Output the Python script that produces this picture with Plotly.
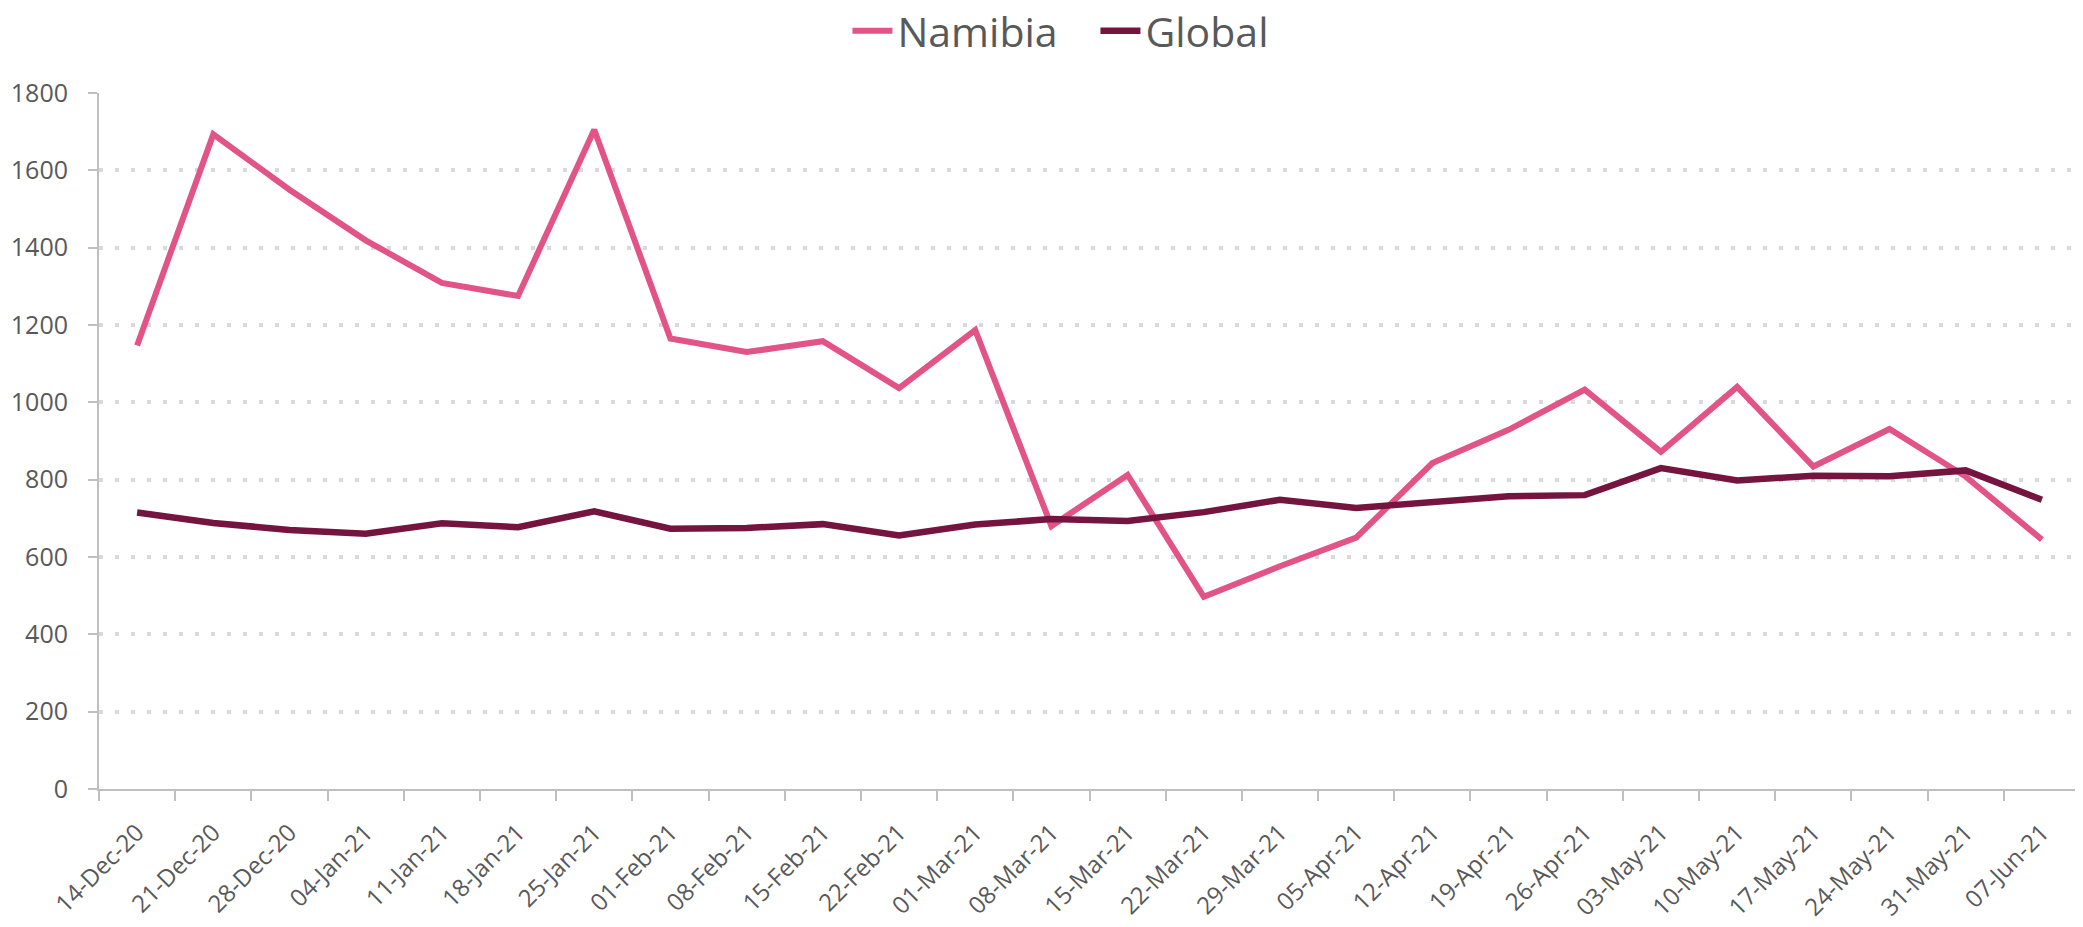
import plotly.graph_objects as go

dates = ["14-Dec-20", "21-Dec-20", "28-Dec-20", "04-Jan-21", "11-Jan-21", "18-Jan-21",
         "25-Jan-21", "01-Feb-21", "08-Feb-21", "15-Feb-21", "22-Feb-21", "01-Mar-21",
         "08-Mar-21", "15-Mar-21", "22-Mar-21", "29-Mar-21", "05-Apr-21", "12-Apr-21",
         "19-Apr-21", "26-Apr-21", "03-May-21", "10-May-21", "17-May-21", "24-May-21",
         "31-May-21", "07-Jun-21"]

namibia = [1147, 1693, 1550, 1419, 1309, 1275, 1705, 1165, 1130, 1158, 1037, 1187,
           680, 812, 497, 576, 650, 843, 929, 1033, 872, 1040, 834, 931, 808, 645]

global_vals = [715, 688, 670, 660, 687, 677, 718, 673, 675, 685, 656, 684,
               698, 693, 716, 748, 727, 740, 757, 760, 830, 798, 810, 809, 824, 748]

y_ticks = [0, 200, 400, 600, 800, 1000, 1200, 1400, 1600, 1800]

PINK = "#E35486"
MAROON = "#74143F"
GRAY_TXT = "#595959"
AXIS = "#BFBFBF"
GRID = "#D9D9D9"
FONT = "Open Sans"

fig = go.Figure()
fig.add_trace(go.Scatter(x=dates, y=namibia, name="Namibia", mode="lines",
                         line=dict(color=PINK, width=6)))
fig.add_trace(go.Scatter(x=dates, y=global_vals, name="Global", mode="lines",
                         line=dict(color=MAROON, width=6.5)))

# page body has an 8px default margin, so the figure is sized to fit the window
fig.update_layout(
    width=2075, height=919,
    margin=dict(l=91, r=3, t=85, b=138),
    paper_bgcolor="white", plot_bgcolor="white",
    font=dict(family=FONT, color=GRAY_TXT, size=25),
    showlegend=True,
    legend=dict(orientation="h", x=0.503, xanchor="center", y=0.975, yref="container",
                yanchor="middle", font=dict(size=41, color=GRAY_TXT, family=FONT),
                itemwidth=40, entrywidth=193, entrywidthmode="pixels",
                tracegroupgap=0, bgcolor="rgba(0,0,0,0)"),
)

fig.update_xaxes(
    type="category", range=[-0.5, len(dates) - 0.5], automargin=False,
    showline=True, linecolor=AXIS, linewidth=2,
    ticks="outside", tickson="boundaries", ticklen=10, tickcolor=AXIS, tickwidth=2,
    tickangle=-45, showgrid=False, zeroline=False,
    tickfont=dict(size=24, color=GRAY_TXT, family=FONT),
    ticklabelstandoff=18,
)

fig.update_yaxes(
    range=[0, 1800], tickvals=y_ticks, automargin=False,
    showline=True, linecolor=AXIS, linewidth=2,
    ticks="outside", ticklen=9, tickcolor=AXIS, tickwidth=2,
    showgrid=True, gridcolor=GRID, gridwidth=4, griddash="4px,12px",
    zeroline=False,
    tickfont=dict(size=25, color=GRAY_TXT, family=FONT),
    ticklabelstandoff=15,
)

fig.write_html("out.html")
